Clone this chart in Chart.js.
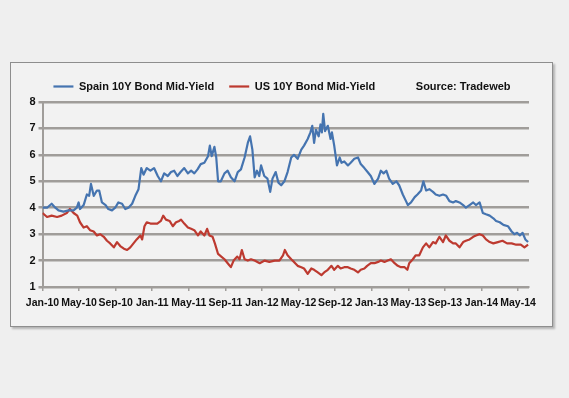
<!DOCTYPE html>
<html lang="en">
<head>
  <meta charset="UTF-8">
  <title>Spain vs US 10Y Bond Mid-Yield</title>
  <script src="https://cdn.jsdelivr.net/npm/chart.js"></script>
  <style>
    html, body { margin: 0; padding: 0; background: #efefef; }
    body { width: 569px; height: 398px; position: relative; overflow: hidden; }
    #frame {
      position: absolute; left: 10px; top: 62px; width: 541px; height: 263px;
      border: 1px solid #8e8e8e; background: #f2f2f2;
      box-shadow: 2px 2px 2px rgba(0,0,0,0.25);
    }
    #frame canvas { display: block; }
  </style>
</head>
<body>
  <div id="frame"><canvas id="yieldChart" width="541" height="263"></canvas></div>

  <script>
    // months since Jan-2010 for each x tick, and their labels
    const tickMonths = [0, 4, 8, 12, 16, 20, 24, 28, 32, 36, 40, 44, 48, 52];
    const tickLabels = ['Jan-10', 'May-10', 'Sep-10', 'Jan-11', 'May-11', 'Sep-11', 'Jan-12',
                        'May-12', 'Sep-12', 'Jan-13', 'May-13', 'Sep-13', 'Jan-14', 'May-14'];

    // Spain 10Y mid-yield
    const spainMonths = [0, 0.5, 1.0, 1.4, 1.75, 2.3, 2.85, 3.4, 3.75, 3.95, 4.1, 4.5, 4.85, 5.1, 5.3, 5.6, 5.95, 6.2, 6.5, 6.9,
      7.2, 7.6, 7.95, 8.3, 8.7, 9.05, 9.4, 9.8, 10.15, 10.5, 10.8, 11.05, 11.4, 11.8, 12.2, 12.6, 12.95, 13.3, 13.7, 14.05,
      14.4, 14.75, 15.1, 15.5, 15.9, 16.25, 16.6, 16.95, 17.3, 17.7, 18.1, 18.3, 18.5, 18.8, 19.0, 19.2, 19.5, 19.9, 20.25, 20.6,
      21.0, 21.35, 21.7, 22.1, 22.45, 22.7, 22.95, 23.2, 23.45, 23.7, 23.9, 24.25, 24.6, 24.9, 25.15, 25.5, 25.8, 26.1, 26.45, 26.8,
      27.2, 27.5, 27.9, 28.3, 28.6, 29.0, 29.3, 29.5, 29.7, 29.9, 30.2, 30.4, 30.55, 30.7, 30.9, 31.2, 31.5, 31.65, 31.9, 32.2,
      32.5, 32.7, 33.0, 33.4, 33.7, 34.1, 34.5, 34.8, 35.2, 35.55, 35.9, 36.3, 36.7, 37.0, 37.3, 37.6, 37.9, 38.3, 38.7, 39.0,
      39.4, 39.75, 39.95, 40.3, 40.7, 41.0, 41.4, 41.65, 41.95, 42.3, 42.7, 43.0, 43.4, 43.8, 44.15, 44.5, 44.9, 45.2, 45.6, 46.0,
      46.3, 46.7, 47.1, 47.4, 47.8, 48.15, 48.5, 48.9, 49.3, 49.6, 50.0, 50.4, 50.9, 51.3, 51.6, 51.9, 52.2, 52.5, 52.8, 53.1];
    const spainYield = [4.0, 4.0, 4.15, 4.0, 3.9, 3.85, 3.9, 3.9, 4.0, 4.2, 3.95, 4.1, 4.5, 4.45, 4.9, 4.45, 4.65, 4.65, 4.2, 4.1,
      3.95, 3.9, 4.0, 4.2, 4.15, 3.95, 4.0, 4.15, 4.45, 4.7, 5.5, 5.25, 5.5, 5.4, 5.5, 5.2, 5.0, 5.3, 5.2, 5.35,
      5.4, 5.2, 5.35, 5.5, 5.3, 5.4, 5.3, 5.45, 5.65, 5.7, 5.95, 6.35, 5.95, 6.3, 5.9, 5.0, 5.0, 5.3, 5.4, 5.15,
      5.0, 5.35, 5.45, 5.9, 6.45, 6.7, 6.2, 5.15, 5.4, 5.2, 5.6, 5.2, 5.1, 4.6, 5.1, 5.35, 4.95, 4.85, 5.0, 5.35,
      5.9, 6.0, 5.85, 6.2, 6.35, 6.6, 6.85, 7.1, 6.45, 6.95, 6.7, 7.15, 6.85, 7.55, 6.9, 7.1, 6.6, 6.85, 6.35, 5.6,
      5.9, 5.7, 5.75, 5.6, 5.7, 5.85, 5.9, 5.65, 5.5, 5.35, 5.2, 4.9, 5.1, 5.4, 5.3, 5.4, 5.1, 4.9, 5.0, 4.85,
      4.5, 4.25, 4.1, 4.2, 4.4, 4.5, 4.65, 5.0, 4.65, 4.7, 4.6, 4.5, 4.45, 4.5, 4.45, 4.25, 4.2, 4.25, 4.2, 4.1,
      4.0, 4.1, 4.2, 4.1, 4.2, 3.8, 3.75, 3.7, 3.6, 3.5, 3.45, 3.35, 3.3, 3.1, 3.0, 3.05, 2.95, 3.05, 2.8, 2.7];

    // US 10Y mid-yield
    const usMonths = [0, 0.5, 1.0, 1.6, 2.1, 2.65, 3.0, 3.4, 3.8, 4.1, 4.5, 4.85, 5.2, 5.6, 5.95, 6.3, 6.7, 7.05, 7.4, 7.8,
      8.15, 8.5, 8.9, 9.25, 9.6, 9.95, 10.3, 10.7, 10.9, 11.15, 11.4, 11.8, 12.2, 12.55, 12.95, 13.2, 13.5, 13.9, 14.25, 14.6,
      14.95, 15.15, 15.5, 15.9, 16.25, 16.6, 17.0, 17.3, 17.7, 18.0, 18.25, 18.6, 18.85, 19.2, 19.55, 19.9, 20.25, 20.6, 20.9, 21.3,
      21.55, 21.8, 22.1, 22.45, 22.8, 23.2, 23.75, 24.3, 24.8, 25.4, 25.9, 26.3, 26.5, 26.8, 27.2, 27.5, 27.9, 28.3, 28.6, 29.0,
      29.4, 29.7, 30.1, 30.5, 30.8, 31.2, 31.6, 31.9, 32.3, 32.6, 33.0, 33.4, 33.7, 34.1, 34.5, 34.8, 35.2, 35.5, 35.9, 36.3,
      36.7, 37.0, 37.4, 37.75, 38.1, 38.5, 38.85, 39.2, 39.6, 39.9, 40.1, 40.5, 40.8, 41.2, 41.6, 41.95, 42.3, 42.7, 43.0, 43.4,
      43.8, 44.1, 44.5, 44.9, 45.2, 45.6, 46.0, 46.3, 46.7, 47.1, 47.4, 47.8, 48.15, 48.5, 48.9, 49.3, 49.8, 50.3, 50.8, 51.3,
      51.8, 52.3, 52.7, 53.1];
    const usYield = [3.8, 3.65, 3.7, 3.65, 3.7, 3.8, 3.95, 3.8, 3.7, 3.45, 3.25, 3.3, 3.15, 3.1, 2.95, 3.0, 2.9, 2.75, 2.65, 2.5,
      2.7, 2.55, 2.45, 2.4, 2.5, 2.65, 2.8, 2.95, 2.8, 3.3, 3.45, 3.4, 3.4, 3.4, 3.5, 3.7, 3.55, 3.5, 3.3, 3.45,
      3.5, 3.55, 3.4, 3.25, 3.2, 3.15, 2.95, 3.1, 2.95, 3.2, 2.95, 2.9, 2.65, 2.25, 2.15, 2.05, 1.9, 1.75, 2.0, 2.15,
      2.05, 2.4, 2.05, 2.0, 2.05, 2.0, 1.9, 2.0, 1.95, 2.0, 2.0, 2.2, 2.4, 2.2, 2.05, 1.95, 1.8, 1.75, 1.7, 1.5,
      1.7, 1.65, 1.55, 1.45, 1.55, 1.65, 1.8, 1.65, 1.8, 1.7, 1.75, 1.75, 1.7, 1.65, 1.55, 1.65, 1.7, 1.8, 1.9, 1.9,
      1.95, 2.0, 1.95, 2.0, 2.05, 1.9, 1.8, 1.75, 1.75, 1.65, 1.9, 2.05, 2.2, 2.2, 2.5, 2.65, 2.5, 2.7, 2.65, 2.9,
      2.7, 2.95, 2.75, 2.65, 2.65, 2.5, 2.7, 2.75, 2.8, 2.9, 2.95, 3.0, 2.95, 2.8, 2.7, 2.65, 2.7, 2.75, 2.65, 2.65,
      2.6, 2.6, 2.5, 2.6];

    const font = "'Liberation Sans', Arial, sans-serif";
    const gridGrey = '#a09d9a';

    function toPoints(xs, ys) {
      return xs.map((m, i) => ({ x: m, y: ys[i] }));
    }

    // nudge the legend row a little to the right, as in the original
    const legendShift = {
      id: 'legendShift',
      afterLayout(chart) {
        chart.legend.left += 12;
        chart.legend.right += 12;
      }
    };

    const ctx = document.getElementById('yieldChart').getContext('2d');
    new Chart(ctx, {
      type: 'line',
      data: {
        datasets: [
          {
            label: 'Spain 10Y Bond Mid-Yield',
            data: toPoints(spainMonths, spainYield),
            borderColor: '#4574b0',
            borderWidth: 2.2
          },
          {
            label: 'US 10Y Bond Mid-Yield',
            data: toPoints(usMonths, usYield),
            borderColor: '#bd3a30',
            borderWidth: 2.2
          },
          {
            // legend-only entry, like the source note in the original
            label: 'Source: Tradeweb',
            data: [],
            borderColor: 'rgba(0,0,0,0)',
            borderWidth: 2.2
          }
        ]
      },
      options: {
        responsive: false,
        animation: false,
        events: [],
        elements: {
          point: { radius: 0 },
          line: { tension: 0, borderJoinStyle: 'round' }
        },
        layout: { padding: { left: 0, right: 23, top: 3, bottom: 0 } },
        plugins: {
          legend: {
            position: 'top',
            align: 'center',
            labels: {
              usePointStyle: true,
              pointStyle: 'line',
              pointStyleWidth: 20,
              padding: 15,
              color: '#111',
              font: { family: font, size: 11, weight: 'bold' }
            }
          },
          tooltip: { enabled: false }
        },
        scales: {
          x: {
            type: 'linear',
            min: 0,
            max: 53.2,
            afterFit: s => { s.height = 39; },
            afterBuildTicks: s => { s.ticks = tickMonths.map(v => ({ value: v })); },
            grid: { display: true, drawOnChartArea: false, drawTicks: true, tickLength: 4, color: gridGrey, lineWidth: 1.5 },
            border: { display: true, color: gridGrey, width: 2 },
            ticks: {
              autoSkip: false,
              maxRotation: 0,
              padding: 6,
              color: '#111',
              font: { family: font, size: 10.5, weight: 'bold' },
              callback: v => tickLabels[tickMonths.indexOf(v)]
            }
          },
          y: {
            min: 1,
            max: 8,
            afterFit: s => { s.width = 31.5; },
            grid: { color: gridGrey, lineWidth: 2.5, tickLength: 4 },
            border: { display: true, color: gridGrey, width: 2 },
            ticks: {
              stepSize: 1,
              padding: 3,
              color: '#111',
              font: { family: font, size: 11, weight: 'bold' }
            }
          }
        }
      },
      plugins: [legendShift]
    });
  </script>
</body>
</html>
